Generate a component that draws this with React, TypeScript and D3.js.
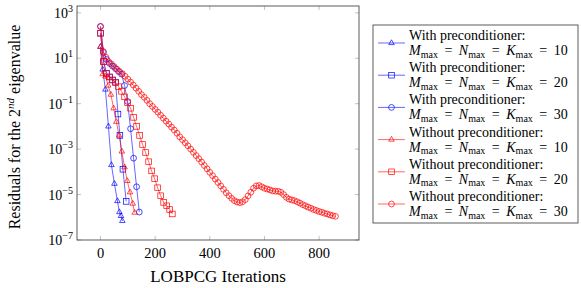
import { useRef, useEffect } from "react";
import * as d3 from "d3";

// iterations and residuals
const withPc10Iter = [0, 8, 18, 29, 40, 51, 62, 69, 75, 80];
const withPc10Res = [3.2e1, 3.2, 4.2e-1, 1.0e-2, 2.0e-4, 3.0e-5, 5.2e-6, 1.7e-6, 1.15e-6, 6.9e-7];

const withPc20Iter = [0, 11, 22, 33, 44, 55, 64, 71, 82, 94];
const withPc20Res = [1.26e2, 7.2, 2.2, 1.5, 1.1, 8.9e-1, 3.5e-2, 4.0e-3, 1.3e-4, 5.0e-6];

const withPc30Iter = [0, 11, 22, 33, 44, 55, 66, 77, 88, 99, 110, 121, 132, 142];
const withPc30Res = [2.5e2, 1.8e1, 8.9, 5.9, 4.5, 3.5, 2.6, 2.0, 6.3e-1, 1.26e-1, 7.9e-3, 4.0e-4, 2.2e-5, 1.7e-6];

const noPc10Iter = [0, 8, 18, 28, 38, 48, 58, 68, 78, 88, 98, 108, 118, 125];
const noPc10Res = [3.2e1, 2.0, 1.58, 6.3e-1, 2.5e-1, 6.3e-2, 1.6e-2, 4.0e-3, 7.9e-4, 1.6e-4, 4.0e-5, 1.26e-5, 4.0e-6, 1.6e-6];

const noPc20Iter = [0, 11, 22, 33, 44, 55, 66, 77, 88, 99, 110, 121, 132, 143, 154, 165, 176, 187, 198, 209, 220, 231, 242, 253, 263];
const noPc20Res = [
    1.26e2, 7.2, 2.1, 1.5, 1.12, 8.3e-1, 5.6e-1, 3.5e-1, 2.0e-1, 1.1e-1, 6.3e-2, 2.5e-2, 1.0e-2, 4.0e-3, 1.6e-3,
    7.1e-4, 2.8e-4, 1.1e-4, 5.0e-5, 2.0e-5, 8.9e-6, 4.5e-6, 3.2e-6, 2.2e-6, 1.4e-6,
];

const noPc30Iter = [
    0, 10, 20, 30, 40, 50, 60, 70, 80, 90, 100, 110, 120, 130, 140, 150, 160, 170, 180, 190, 200, 210, 220, 230,
    240, 250, 260, 270, 280, 290, 300, 310, 320, 330, 340, 350, 360, 370, 380, 390, 400, 410, 420, 430, 440, 450,
    460, 470, 480, 490, 500, 510, 520, 530, 540, 550, 560, 570, 580, 590, 600, 610, 620, 630, 640, 650, 660, 670,
    680, 690, 700, 710, 720, 730, 740, 750, 760, 770, 780, 790, 800, 810, 820, 830, 840, 850, 860,
];
const noPc30Res = [
    2.5e2, 2.0e1, 1.1e1, 7.1, 5.6, 4.3, 3.3, 2.6, 2.1, 1.6, 1.2, 8.9e-1, 6.6e-1, 4.8e-1, 3.5e-1, 2.5e-1, 1.9e-1,
    1.4e-1, 1.0e-1, 7.6e-2, 5.6e-2, 4.2e-2, 3.1e-2, 2.3e-2, 1.7e-2, 1.26e-2, 9.3e-3, 6.9e-3, 5.0e-3, 3.5e-3,
    2.6e-3, 1.9e-3, 1.4e-3, 1.0e-3, 7.2e-4, 5.2e-4, 3.8e-4, 2.7e-4, 1.9e-4, 1.35e-4, 9.5e-5, 6.8e-5, 4.8e-5,
    3.4e-5, 2.4e-5, 1.7e-5, 1.2e-5, 8.9e-6, 6.8e-6, 5.4e-6, 4.7e-6, 4.4e-6, 4.8e-6, 6.0e-6, 8.7e-6, 1.26e-5,
    1.9e-5, 2.4e-5, 2.5e-5, 2.2e-5, 1.9e-5, 1.75e-5, 1.6e-5, 1.45e-5, 1.4e-5, 1.4e-5, 1.26e-5, 1.0e-5, 7.6e-6,
    6.3e-6, 5.8e-6, 5.4e-6, 4.8e-6, 4.2e-6, 3.6e-6, 3.2e-6, 2.8e-6, 2.5e-6, 2.2e-6, 2.0e-6, 1.8e-6, 1.66e-6,
    1.5e-6, 1.4e-6, 1.26e-6, 1.17e-6, 1.1e-6,
];

const xTicks = [0, 200, 400, 600, 800];
const yTickExps = [3, 1, -1, -3, -5, -7];
const legendTitles = [
    "With preconditioner:",
    "With preconditioner:",
    "With preconditioner:",
    "Without preconditioner:",
    "Without preconditioner:",
    "Without preconditioner:",
];
const legendSizes = ["10", "20", "30", "10", "20", "30"];

const series = [
    { iter: withPc10Iter, res: withPc10Res, color: "#0000ff", mark: "triangle" },
    { iter: withPc20Iter, res: withPc20Res, color: "#0000ff", mark: "square" },
    { iter: withPc30Iter, res: withPc30Res, color: "#0000ff", mark: "circle" },
    { iter: noPc10Iter, res: noPc10Res, color: "#ff0000", mark: "triangle" },
    { iter: noPc20Iter, res: noPc20Res, color: "#ff0000", mark: "square" },
    { iter: noPc30Iter, res: noPc30Res, color: "#ff0000", mark: "circle" },
];

const FONT = "'Liberation Serif', 'DejaVu Serif', serif";

const drawMark = (g, kind, x, y, color) => {
    if (kind === "circle") {
        g.append("circle").attr("cx", x).attr("cy", y).attr("r", 2.9)
            .attr("fill", "none").attr("stroke", color).attr("stroke-width", 0.7);
    } else if (kind === "square") {
        g.append("rect").attr("x", x - 2.8).attr("y", y - 2.8).attr("width", 5.6).attr("height", 5.6)
            .attr("fill", "none").attr("stroke", color).attr("stroke-width", 0.7);
    } else {
        const r = 3.2;
        g.append("path")
            .attr("d", `M${x},${y - r}L${x + r * 0.866},${y + r * 0.5}L${x - r * 0.866},${y + r * 0.5}Z`)
            .attr("fill", "none").attr("stroke", color).attr("stroke-width", 0.7);
    }
};

const App = () => {
    const svgRef = useRef(null);

    useEffect(() => {
        const width = 581;
        const height = 288;
        const left = 77, right = 359, top = 6, bottom = 240;

        const svg = d3.select(svgRef.current);
        svg.selectAll("*").remove();
        svg.attr("width", width).attr("height", height);

        const x = d3.scaleLinear().domain([-86, 946]).range([left, right]);
        const y = d3.scaleLog().domain([1e-7, Math.pow(10, 3.3)]).range([bottom, top]);

        // ticks (inside, mirrored)
        const ticks = svg.append("g").attr("stroke", "#999").attr("stroke-width", 0.6);
        xTicks.forEach((t) => {
            ticks.append("line").attr("x1", x(t)).attr("x2", x(t)).attr("y1", bottom).attr("y2", bottom - 4);
            ticks.append("line").attr("x1", x(t)).attr("x2", x(t)).attr("y1", top).attr("y2", top + 4);
        });
        yTickExps.forEach((e) => {
            const v = Math.pow(10, e);
            ticks.append("line").attr("x1", left).attr("x2", left + 4).attr("y1", y(v)).attr("y2", y(v));
            ticks.append("line").attr("x1", right).attr("x2", right - 4).attr("y1", y(v)).attr("y2", y(v));
        });

        // data
        const plot = svg.append("g");
        const clip = svg.append("clipPath").attr("id", "plotclip");
        clip.append("rect").attr("x", left).attr("y", top).attr("width", right - left).attr("height", bottom - top);
        plot.attr("clip-path", "url(#plotclip)");

        series.forEach((s) => {
            const pts = s.iter.map((it, i) => [x(it), y(s.res[i])]);
            plot.append("path")
                .attr("d", d3.line()(pts))
                .attr("fill", "none")
                .attr("stroke", s.color)
                .attr("stroke-width", 0.6);
            const mg = plot.append("g");
            pts.forEach(([px, py]) => drawMark(mg, s.mark, px, py, s.color));
        });

        // frame
        svg.append("rect")
            .attr("x", left).attr("y", top).attr("width", right - left).attr("height", bottom - top)
            .attr("fill", "none").attr("stroke", "#333").attr("stroke-width", 0.8);

        // tick labels
        xTicks.forEach((t) => {
            svg.append("text")
                .attr("x", x(t)).attr("y", bottom + 18)
                .attr("text-anchor", "middle")
                .style("font-family", FONT).style("font-size", "14.5px")
                .text(t);
        });
        yTickExps.forEach((e) => {
            const t = svg.append("text")
                .attr("x", left - 4).attr("y", y(Math.pow(10, e)) + 5)
                .attr("text-anchor", "end")
                .style("font-family", FONT).style("font-size", "14px");
            t.append("tspan").text("10");
            t.append("tspan").attr("dy", -6).style("font-size", "10px").text(e < 0 ? `\u2212${-e}` : `${e}`);
        });

        // axis labels
        svg.append("text")
            .attr("x", 218).attr("y", 282)
            .attr("text-anchor", "middle")
            .style("font-family", FONT).style("font-size", "17px")
            .text("LOBPCG Iterations");

        const yl = svg.append("text")
            .attr("transform", `translate(20, ${(top + bottom) / 2 + 4}) rotate(-90)`)
            .attr("text-anchor", "middle")
            .style("font-family", FONT).style("font-size", "16px");
        yl.append("tspan").text("Residuals for the 2");
        yl.append("tspan").attr("dy", -6).style("font-size", "11px").style("font-style", "italic").text("nd");
        yl.append("tspan").attr("dy", 6).text(" eigenvalue");

        // legend
        const lg = svg.append("g");
        lg.append("rect")
            .attr("x", 373).attr("y", 25).attr("width", 205).attr("height", 198)
            .attr("fill", "white").attr("stroke", "#333").attr("stroke-width", 0.8);
        series.forEach((s, i) => {
            const cy = 43 + i * 32.2;
            lg.append("line").attr("x1", 378).attr("x2", 405).attr("y1", cy).attr("y2", cy)
                .attr("stroke", s.color).attr("stroke-width", 0.6);
            drawMark(lg, s.mark, 391.5, cy, s.color);
            lg.append("text")
                .attr("x", 409).attr("y", cy - 3)
                .style("font-family", FONT).style("font-size", "14px")
                .text(legendTitles[i]);
            const t = lg.append("text")
                .attr("x", 409).attr("y", cy + 12)
                .style("font-family", FONT).style("font-size", "14px");
            ["M", "N", "K"].forEach((letter, k) => {
                t.append("tspan").attr("dx", k === 0 ? 0 : 6.5).style("font-style", "italic").text(letter);
                t.append("tspan").attr("dy", 2.5).style("font-size", "10px").text("max");
                t.append("tspan").attr("dy", -2.5).attr("dx", 6.5).text("=");
            });
            t.append("tspan").attr("dx", 6.5).text(legendSizes[i]);
        });
    }, []);

    return (
        <div style={{ position: "absolute", left: 0, top: 0 }}>
            <svg ref={svgRef}></svg>
        </div>
    );
};

export default App;
